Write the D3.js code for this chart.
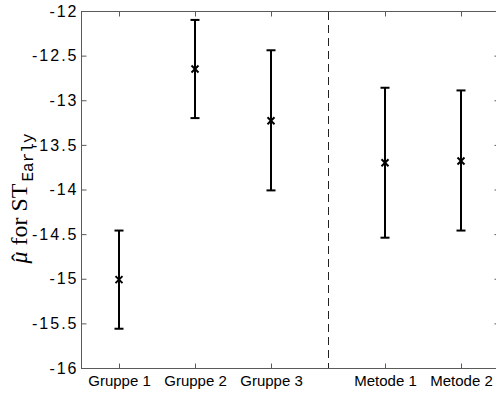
<!DOCTYPE html>
<html>
<head>
<meta charset="utf-8">
<script src="https://cdn.jsdelivr.net/npm/d3@7"></script>
<style>
  html, body { margin: 0; padding: 0; background: #fff; }
  svg { display: block; }
</style>
</head>
<body>
<svg id="chart" width="496" height="394"></svg>
<script>
// ---- data ----
const categories = ["Gruppe 1", "Gruppe 2", "Gruppe 3", "Metode 1", "Metode 2"];
const positions  = [1, 2, 3, 4.5, 5.5];
const means      = [-15.01, -12.65, -13.23, -13.70, -13.68];
const lower      = [-15.56, -13.20, -14.01, -14.54, -14.46];
const upper      = [-14.46, -12.10, -12.44, -12.86, -12.89];
const separatorX = [3.75];
const yTicks     = [-16, -15.5, -15, -14.5, -14, -13.5, -13, -12.5, -12];

const svg = d3.select("#chart");
const L = 81, R = 499, T = 11, B = 368;

const x = d3.scaleLinear().domain([0.5, 6]).range([L, R]);
const y = d3.scaleLinear().domain([-16, -12]).range([B, T]);

const axisColor = "#5a5a5a";
const font = "'Liberation Sans', Arial, sans-serif";

// box
svg.append("rect")
  .attr("x", L + 0.5).attr("y", T + 0.5)
  .attr("width", R - L).attr("height", B - T)
  .attr("fill", "none").attr("stroke", axisColor).attr("stroke-width", 1);

function styleAxis(g) {
  g.select(".domain").remove();
  g.selectAll(".tick line").attr("stroke", axisColor);
  g.selectAll("text").attr("fill", "#000").style("font-family", font).style("font-size", "15px");
}

// left axis
svg.append("g").attr("transform", `translate(${L + 0.5},0)`)
  .call(d3.axisLeft(y).tickValues(yTicks).tickSizeInner(-5).tickSizeOuter(0).tickPadding(3)
    .tickFormat(d => String(d)))
  .call(styleAxis)
  .call(g => g.selectAll("text").style("font-size", "16px").style("letter-spacing", "2px"));

// right axis (ticks only)
svg.append("g").attr("transform", `translate(${R + 0.5},0)`)
  .call(d3.axisRight(y).tickValues(yTicks).tickSizeInner(-5).tickSizeOuter(0).tickFormat(""))
  .call(styleAxis);

// bottom axis
svg.append("g").attr("transform", `translate(0,${B + 0.5})`)
  .call(d3.axisBottom(x).tickValues(positions).tickSizeInner(-5).tickSizeOuter(0).tickPadding(7)
    .tickFormat((d, i) => categories[i]))
  .call(styleAxis);

// top axis (ticks only)
svg.append("g").attr("transform", `translate(0,${T + 0.5})`)
  .call(d3.axisTop(x).tickValues(positions).tickSizeInner(-5).tickSizeOuter(0).tickFormat(""))
  .call(styleAxis);

// dashed separator
svg.selectAll(".sep").data(separatorX).enter().append("line")
  .attr("x1", d => Math.round(x(d)) + 0.5).attr("x2", d => Math.round(x(d)) + 0.5)
  .attr("y1", T + 1).attr("y2", B)
  .attr("stroke", "#222").attr("stroke-width", 1).attr("stroke-dasharray", "8,5");

// error bars
const data = categories.map((c, i) => ({ c, p: positions[i], m: means[i], lo: lower[i], hi: upper[i] }));
const eb = svg.append("g").attr("stroke", "#000").attr("stroke-width", 2).attr("fill", "none");
const capW = 4.5;
eb.selectAll(".v").data(data).enter().append("line")
  .attr("x1", d => x(d.p)).attr("x2", d => x(d.p))
  .attr("y1", d => y(d.hi)).attr("y2", d => y(d.lo));
eb.selectAll(".ct").data(data).enter().append("line")
  .attr("x1", d => x(d.p) - capW).attr("x2", d => x(d.p) + capW)
  .attr("y1", d => y(d.hi)).attr("y2", d => y(d.hi));
eb.selectAll(".cb").data(data).enter().append("line")
  .attr("x1", d => x(d.p) - capW).attr("x2", d => x(d.p) + capW)
  .attr("y1", d => y(d.lo)).attr("y2", d => y(d.lo));

// x markers
const ms = 3.5;
eb.selectAll(".m1").data(data).enter().append("line")
  .attr("x1", d => x(d.p) - ms).attr("x2", d => x(d.p) + ms)
  .attr("y1", d => y(d.m) - ms).attr("y2", d => y(d.m) + ms);
eb.selectAll(".m2").data(data).enter().append("line")
  .attr("x1", d => x(d.p) - ms).attr("x2", d => x(d.p) + ms)
  .attr("y1", d => y(d.m) + ms).attr("y2", d => y(d.m) - ms);

// y label
const yl = svg.append("text")
  .attr("transform", `translate(27,${(T + B) / 2 + 9}) rotate(-90)`)
  .attr("text-anchor", "middle")
  .style("font-family", "'Liberation Serif', 'Times New Roman', serif")
  .style("font-size", "24px")
  .attr("fill", "#000");
yl.append("tspan").style("font-style", "italic").text("\u03BC");
yl.append("tspan").attr("dx", -10).attr("dy", 1).text("\u02C6");
yl.append("tspan").attr("dx", 2).attr("dy", -1).text(" for ST");
yl.append("tspan")
  .style("font-family", "'Liberation Mono', 'Courier New', monospace")
  .style("font-size", "16px")
  .attr("dx", 2)
  .attr("dy", 6).text("Early");
</script>
</body>
</html>
